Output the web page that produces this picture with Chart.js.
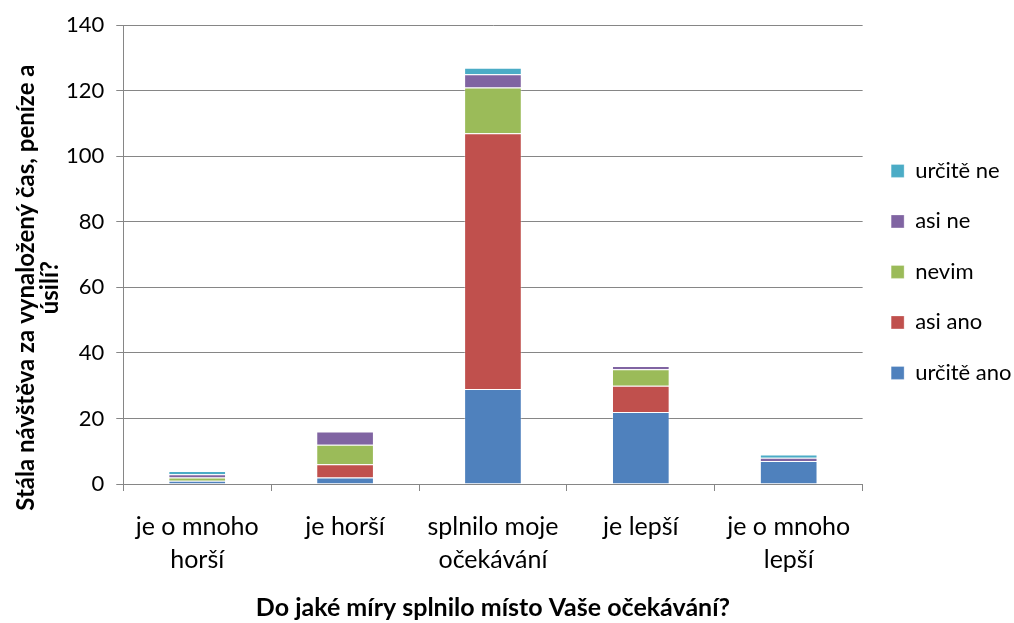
<!DOCTYPE html>
<html>
<head>
<meta charset="utf-8">
<script src="https://cdn.jsdelivr.net/npm/chart.js@4"></script>
<style>
  body { margin: 0; background: #fff; }
  #wrap { width: 1014px; height: 623px; }
</style>
</head>
<body>
<div id="wrap"><canvas id="chart"></canvas></div>
<script>
const categories = [["je o mnoho", "horší"], "je horší", ["splnilo moje", "očekávání"], "je lepší", ["je o mnoho", "lepší"]];
const urciteAno = [1, 2, 29, 22, 7];
const asiAno = [0, 4, 78, 8, 0];
const nevim = [1, 6, 14, 5, 0];
const asiNe = [1, 4, 4, 1, 1];
const urciteNe = [1, 0, 2, 0, 1];
const yTicks = [0, 20, 40, 60, 80, 100, 120, 140];
const yTitleLines = ["Stála návštěva za vynaložený čas, peníze a", "úsilí?"];

const font = "Lato, 'Open Sans', sans-serif";
const gridColor = "#868686";

function series(label, data, color) {
    return {
        label: label,
        data: data,
        backgroundColor: color,
        borderColor: "rgba(255,255,255,0.3)",
        borderWidth: 1,
        categoryPercentage: 1,
        barPercentage: 0.39
    };
}

// y axis title sits a bit lower than the plot centre, like the original
const yTitlePlugin = {
    id: "yTitle",
    afterDraw(chart) {
        const c = chart.ctx;
        const area = chart.chartArea;
        c.save();
        c.translate(26, (area.top + area.bottom) / 2 + 33);
        c.rotate(-Math.PI / 2);
        c.font = "bold 24px " + font;
        c.fillStyle = "#000";
        c.textAlign = "center";
        c.textBaseline = "middle";
        yTitleLines.forEach((t, i) => c.fillText(t, 0, i * 24));
        c.restore();
    }
};

const ctx = document.getElementById("chart").getContext("2d");
new Chart(ctx, {
    type: "bar",
    data: {
        labels: categories,
        datasets: [
            series("určitě ano", urciteAno, "#4F81BD"),
            series("asi ano", asiAno, "#C0504D"),
            series("nevim", nevim, "#9BBB59"),
            series("asi ne", asiNe, "#8064A2"),
            series("určitě ne", urciteNe, "#4BACC6")
        ]
    },
    plugins: [yTitlePlugin],
    options: {
        responsive: true,
        maintainAspectRatio: false,
        animation: false,
        layout: { padding: { top: 14, right: -7.5, left: 54, bottom: 4 } },
        plugins: {
            tooltip: { enabled: false },
            legend: {
                position: "right",
                align: "start",
                reverse: true,
                title: { display: true, text: " ", padding: 57.5, font: { size: 2 } },
                labels: {
                    font: { family: font, size: 22 },
                    color: "#000",
                    boxWidth: 13,
                    boxHeight: 13,
                    padding: 28.5
                }
            }
        },
        scales: {
            x: {
                stacked: true,
                border: { color: gridColor, width: 1 },
                grid: { drawOnChartArea: false, drawTicks: true, tickLength: 7, color: gridColor },
                ticks: { font: { family: font, size: 25, lineHeight: 1.32 }, color: "#000", padding: 19.5, maxRotation: 0 },
                title: {
                    display: true,
                    text: "Do jaké míry splnilo místo Vaše očekávání?",
                    font: { family: font, size: 25, weight: "bold", lineHeight: 0.92 },
                    color: "#000",
                    padding: { top: 0, bottom: 0 }
                }
            },
            y: {
                stacked: true,
                min: 0,
                max: 140,
                afterBuildTicks: axis => { axis.ticks = yTicks.map(v => ({ value: v })); },
                border: { color: gridColor, width: 1 },
                grid: { color: gridColor, tickLength: 7 },
                ticks: { font: { family: font, size: 22 }, color: "#000", padding: 12 }
            }
        }
    }
});
</script>
</body>
</html>
